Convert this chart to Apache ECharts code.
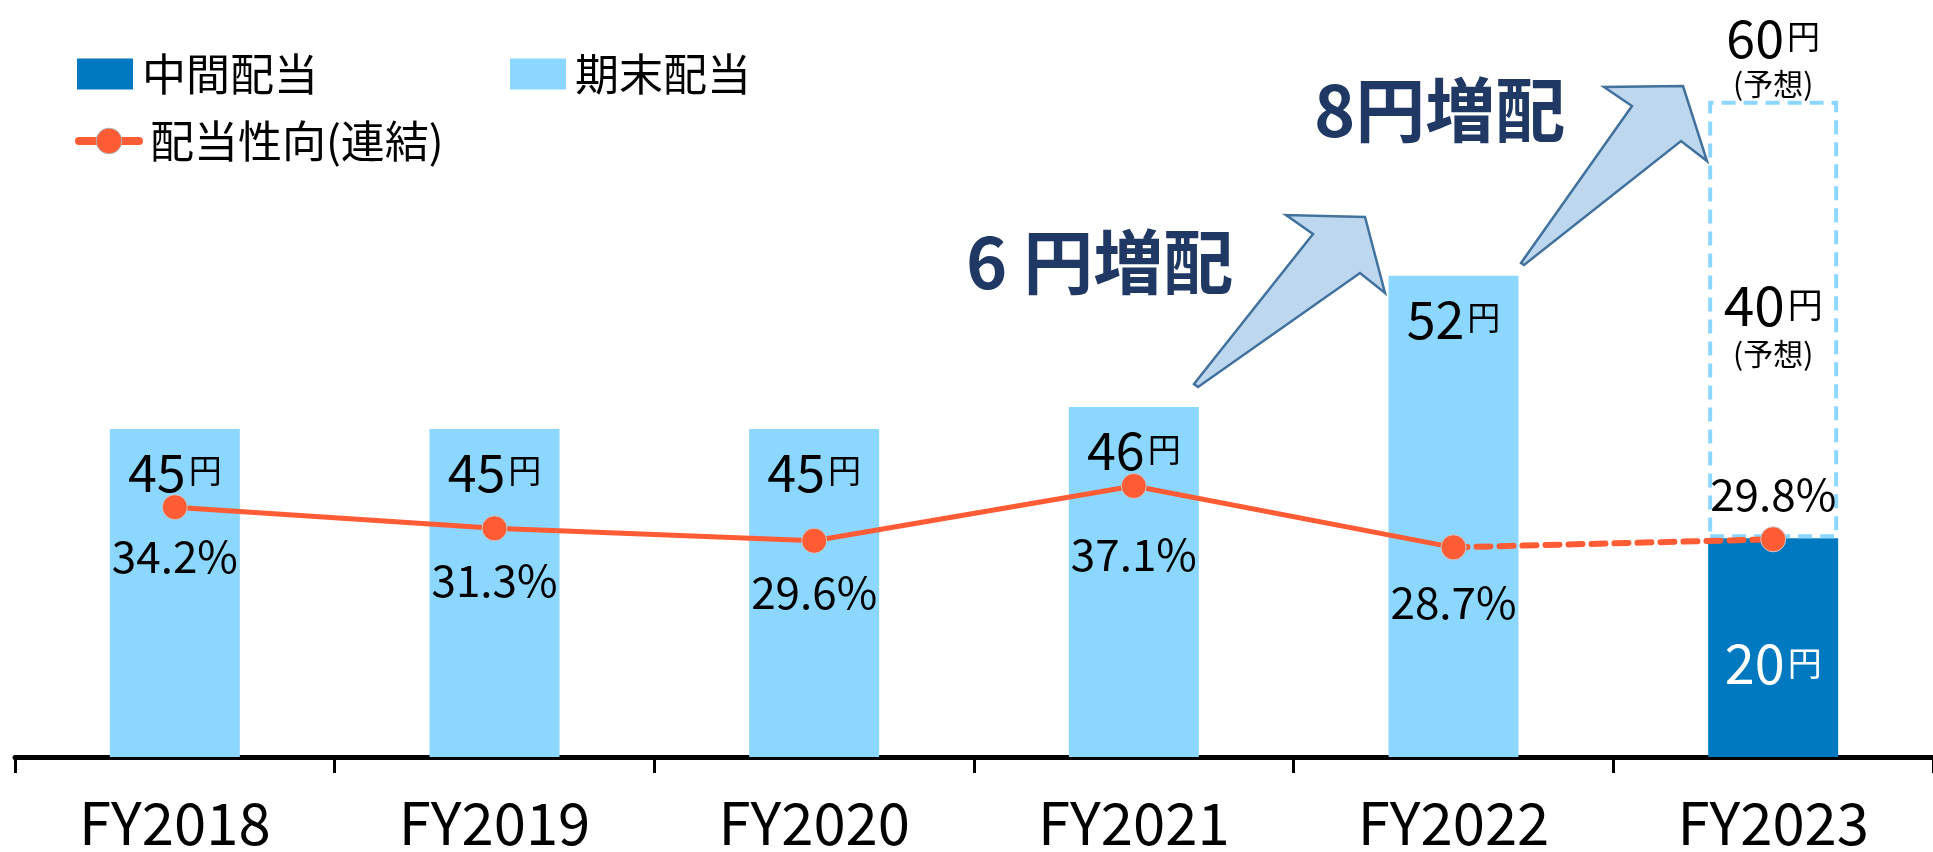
<!DOCTYPE html>
<html>
<head>
<meta charset="utf-8">
<script src="https://cdn.jsdelivr.net/npm/echarts@6/dist/echarts.min.js"></script>
<style>
  html, body { margin: 0; padding: 0; background: #fff; }
  #chart { width: 1933px; height: 852px; }
</style>
</head>
<body>
<div id="chart"></div>
<script>
// データ
var categories = ['FY2018', 'FY2019', 'FY2020', 'FY2021', 'FY2022', 'FY2023'];
var interimDividend = [null, null, null, null, null, 20];   // 中間配当(円)
var yearEndDividend = [45, 45, 45, 46, 52, 40];             // 期末配当(円)
var payoutRatio = [34.2, 31.3, 29.6, 37.1, 28.7, 29.8];     // 配当性向(%)
var forecastIndex = 5;                                      // 予想の年度
var raiseNotes = ['6 円増配', '8円増配'];

var FONT = '"Noto Sans CJK JP", "Noto Sans", sans-serif';
var DARK = '#0079C1';
var LIGHT = '#8BD7FF';
var ORANGE = '#FF5B35';

// 縦軸は30円から（元資料と同じ省略軸）
var yMin = 30;

// 予想年度は見える部分を中間:期末の比で分ける
var interimShown = [];
var yearEndShown = [];
for (var i = 0; i < categories.length; i++) {
    var total = (interimDividend[i] || 0) + yearEndDividend[i];
    if (interimDividend[i]) {
        var v = yMin + (total - yMin) * interimDividend[i] / total;
        interimShown.push(v);
        yearEndShown.push(total - v);
    } else {
        interimShown.push(null);
        yearEndShown.push(yearEndDividend[i]);
    }
}
var forecastTotal = interimDividend[forecastIndex] + yearEndDividend[forecastIndex];

var yenRich = {
    n: { fontSize: 52, fontFamily: FONT, color: '#000', lineHeight: 50 },
    u: { fontSize: 33, fontFamily: FONT, color: '#000', lineHeight: 50, padding: [0, 0, 2, 3] },
    p: { fontSize: 30, fontFamily: FONT, color: '#000', lineHeight: 42 }
};

var chart = echarts.init(document.getElementById('chart'));

var yearEndData = yearEndShown.map(function (v, i) {
    if (i === forecastIndex) {
        return {
            value: v,
            itemStyle: {
                color: 'rgba(255,255,255,0)',
                borderColor: LIGHT,
                borderWidth: 4,
                borderType: [14, 8]
            },
            label: {
                show: true,
                position: 'inside',
                offset: [0, 8],
                formatter: '{n|' + yearEndDividend[i] + '}{u|円}\n{p|(予想)}',
                rich: {
                    n: { fontSize: 55, fontFamily: FONT, color: '#000', lineHeight: 52 },
                    u: { fontSize: 35, fontFamily: FONT, color: '#000', lineHeight: 52, padding: [0, 0, 2, 3] },
                    p: { fontSize: 30, fontFamily: FONT, color: '#000', lineHeight: 44 }
                }
            }
        };
    }
    return v;
});

// 配当性向ラベルの間隔
var rateLabelGap = [14, 17, 17, 33, 20, 10];

var solidRate = payoutRatio.map(function (v, i) {
    if (i >= forecastIndex) return null;
    return {
        value: v,
        label: { show: true, position: 'bottom', distance: rateLabelGap[i] }
    };
});
var dashedRate = payoutRatio.map(function (v, i) {
    if (i < forecastIndex - 1) return null;
    if (i === forecastIndex) {
        return { value: v, label: { show: true, position: 'top', distance: rateLabelGap[i] } };
    }
    return v;
});

var legendText = { fontSize: 44, color: '#000', fontFamily: FONT, padding: [0, 0, 6, 4] };

var option = {
    backgroundColor: '#fff',
    animation: false,
    textStyle: { fontFamily: FONT },
    legend: [
        {
            left: 72, top: 47, itemWidth: 56, itemHeight: 31, icon: 'rect',
            data: ['中間配当'],
            textStyle: legendText
        },
        {
            left: 505, top: 47, itemWidth: 56, itemHeight: 31, icon: 'rect',
            data: ['期末配当'],
            textStyle: legendText
        },
        {
            left: 70, top: 114, itemWidth: 60, itemHeight: 32,
            data: ['配当性向(連結)'],
            lineStyle: { width: 8, type: 'solid', color: ORANGE, cap: 'round' },
            itemStyle: { color: ORANGE, borderColor: '#B0B0B0', borderWidth: 1 },
            textStyle: { fontSize: 44, color: '#000', fontFamily: FONT, padding: [0, 0, 6, 6] }
        }
    ],
    grid: { left: 15, width: 1926, top: 26.5, bottom: 94.5 },
    xAxis: {
        type: 'category',
        data: categories,
        axisLine: { lineStyle: { color: '#000', width: 5 } },
        axisTick: { show: true, length: 16, lineStyle: { color: '#000', width: 3 } },
        axisLabel: { fontSize: 58, color: '#000', margin: 37, fontFamily: FONT }
    },
    yAxis: [
        { type: 'value', min: yMin, max: 63.4, show: false, splitLine: { show: false } },
        { type: 'value', min: 0, max: 100, show: false, splitLine: { show: false } }
    ],
    series: [
        {
            name: '中間配当',
            type: 'bar',
            stack: 'dividend',
            barWidth: 130,
            itemStyle: { color: DARK },
            data: interimShown,
            label: {
                show: true,
                position: 'inside',
                offset: [0, 16],
                formatter: function (p) {
                    return '{n|' + interimDividend[p.dataIndex] + '}{u|円}';
                },
                rich: {
                    n: { fontSize: 54, fontFamily: FONT, color: '#fff', lineHeight: 50 },
                    u: { fontSize: 34, fontFamily: FONT, color: '#fff', lineHeight: 50, padding: [0, 0, 2, 3] }
                }
            }
        },
        {
            name: '期末配当',
            type: 'bar',
            stack: 'dividend',
            barWidth: 130,
            itemStyle: { color: LIGHT },
            data: yearEndData,
            label: {
                show: true,
                position: 'insideTop',
                distance: 18,
                formatter: function (p) {
                    return '{n|' + yearEndDividend[p.dataIndex] + '}{u|円}';
                },
                rich: yenRich
            },
            markPoint: {
                symbol: 'circle',
                symbolSize: 0,
                data: [{
                    coord: [categories[forecastIndex], forecastTotal],
                    label: {
                        show: true,
                        position: 'top',
                        distance: -4,
                        formatter: '{n|' + forecastTotal + '}{u|円}\n{p|(予想)}',
                        rich: yenRich
                    }
                }]
            }
        },
        {
            name: '配当性向(連結)',
            type: 'line',
            yAxisIndex: 1,
            data: solidRate,
            z: 4,
            symbol: 'circle',
            symbolSize: 25,
            itemStyle: { color: ORANGE, borderColor: '#C8C8C8', borderWidth: 1 },
            lineStyle: { color: ORANGE, width: 5 },
            label: { fontSize: 44, color: '#000', fontFamily: FONT, formatter: '{c}%' }
        },
        {
            name: '配当性向(連結)',
            type: 'line',
            yAxisIndex: 1,
            data: dashedRate,
            z: 3,
            symbol: 'circle',
            symbolSize: 25,
            itemStyle: { color: ORANGE, borderColor: '#C8C8C8', borderWidth: 1 },
            lineStyle: { color: ORANGE, width: 6, type: [14, 9], cap: 'round' },
            label: { fontSize: 44, color: '#000', fontFamily: FONT, formatter: '{c}%' }
        }
    ],
    graphic: [
        {
            type: 'polygon',
            shape: { points: [[1194, 384], [1313, 234], [1286, 215], [1365, 217], [1385, 293], [1360, 273], [1198, 387]] },
            style: { fill: '#BDD7EE', stroke: '#41719C', lineWidth: 2.5 }
        },
        {
            type: 'polygon',
            shape: { points: [[1521, 263], [1632, 106], [1604, 87], [1683, 86], [1707, 161], [1681, 141], [1524, 265]] },
            style: { fill: '#BDD7EE', stroke: '#41719C', lineWidth: 2.5 }
        },
        {
            type: 'text',
            left: 966, top: 227,
            style: { text: raiseNotes[0], fontSize: 70, fontWeight: 'bold', fontFamily: FONT, fill: '#1F3864' }
        },
        {
            type: 'text',
            left: 1314, top: 75,
            style: { text: raiseNotes[1], fontSize: 70, fontWeight: 'bold', fontFamily: FONT, fill: '#1F3864' }
        }
    ]
};

chart.setOption(option);
</script>
</body>
</html>
